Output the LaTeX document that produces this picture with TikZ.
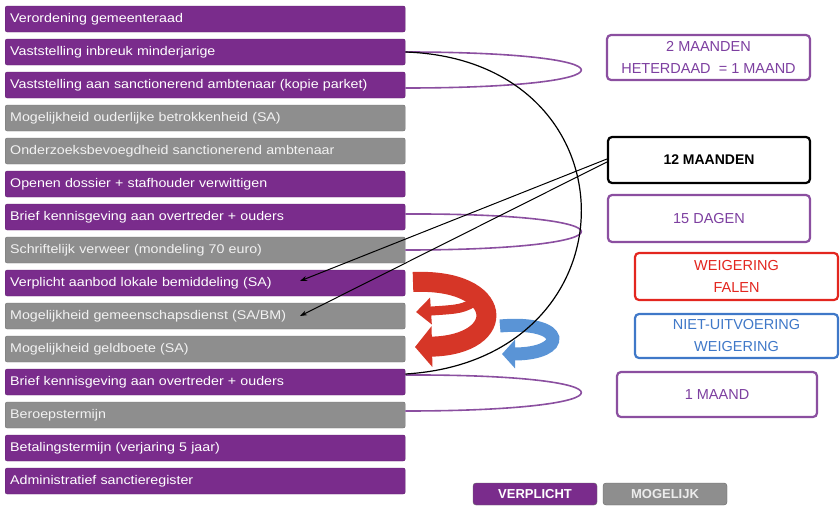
\documentclass[tikz,border=0pt]{standalone}
\usepackage{fontspec}
\setmainfont{Liberation Sans}
\newfontfamily\balkfont[FakeStretch=1.13]{Liberation Sans}
\usetikzlibrary{arrows.meta}

\definecolor{paars}{HTML}{7A2C8C}
\definecolor{grijs}{HTML}{8E8E8E}
\definecolor{lijnpaars}{HTML}{8B4FA0}
\definecolor{tekstpaars}{HTML}{7D3FA0}
\definecolor{rood}{HTML}{E3261F}
\definecolor{blauw}{HTML}{3F78C8}
\definecolor{pijlrood}{HTML}{D63627}
\definecolor{pijlblauw}{HTML}{5A94D6}

\begin{document}
\begin{tikzpicture}[x=1pt,y=-1pt,
  balk/.style={rounded corners=2pt,minimum height=26pt,text width=390pt,align=left,
    inner xsep=5pt,anchor=west,font=\balkfont\fontsize{12.6}{14}\selectfont,text=white},
  verpl/.style={balk,fill=paars,draw=paars!80!black},
  mogel/.style={balk,fill=grijs,draw=grijs!80!black,text=white!90!gray},
  termijn/.style={draw,line width=2.2pt,rounded corners=4pt,fill=white,align=center,
    font=\fontsize{14.5}{22}\selectfont},
  legende/.style={rounded corners=3pt,minimum width=124pt,minimum height=22pt,
    font=\bfseries\fontsize{13}{15}\selectfont,draw=black!60},
  lus/.style={lijnpaars,line width=1.6pt}]
\useasboundingbox (0,0) rectangle (840,506);

% balken
\node[verpl] (b1) at (5,19) {Verordening gemeenteraad};
\node[verpl] (b2) at (5,52) {Vaststelling inbreuk minderjarige};
\node[verpl] (b3) at (5,85) {Vaststelling aan sanctionerend ambtenaar (kopie parket)};
\node[mogel] (b4) at (5,118) {Mogelijkheid ouderlijke betrokkenheid (SA)};
\node[mogel] (b5) at (5,151) {Onderzoeksbevoegdheid sanctionerend ambtenaar};
\node[verpl] (b6) at (5,184) {Openen dossier + stafhouder verwittigen};
\node[verpl] (b7) at (5,217) {Brief kennisgeving aan overtreder + ouders};
\node[mogel] (b8) at (5,250) {Schriftelijk verweer (mondeling 70 euro)};
\node[verpl] (b9) at (5,283) {Verplicht aanbod lokale bemiddeling (SA)};
\node[mogel] (b10) at (5,316) {Mogelijkheid gemeenschapsdienst (SA/BM)};
\node[mogel] (b11) at (5,349) {Mogelijkheid geldboete (SA)};
\node[verpl] (b12) at (5,382) {Brief kennisgeving aan overtreder + ouders};
\node[mogel] (b13) at (5,415) {Beroepstermijn};
\node[verpl] (b14) at (5,448) {Betalingstermijn (verjaring 5 jaar)};
\node[verpl] (b15) at (5,481) {Administratief sanctieregister};

% termijnen
\node[termijn,draw=lijnpaars,text=tekstpaars,minimum width=203pt,minimum height=45pt]
  (t2m) at (708.5,57.5) {2 MAANDEN\\HETERDAAD \ = 1 MAAND};
\node[termijn,draw=black,text=black,font=\bfseries\fontsize{14}{16}\selectfont,
  minimum width=202pt,minimum height=46pt] (t12) at (709,160) {12 MAANDEN};
\node[termijn,draw=lijnpaars,text=tekstpaars,minimum width=202pt,minimum height=47pt]
  (t15) at (709,218.5) {15 DAGEN};
\node[termijn,draw=rood,text=rood,minimum width=203pt,minimum height=47pt]
  (tw) at (736.5,276.5) {WEIGERING\\FALEN};
\node[termijn,draw=blauw,text=blauw,minimum width=203pt,minimum height=44pt]
  (tn) at (736.5,336) {NIET-UITVOERING\\WEIGERING};
\node[termijn,draw=lijnpaars,text=tekstpaars,minimum width=200pt,minimum height=45pt]
  (t1m) at (717,394.5) {1 MAAND};

% legende
\node[legende,fill=paars,text=white] (lv) at (535,494) {VERPLICHT};
\node[legende,fill=grijs,text=white!85!gray] (lm) at (665,494) {MOGELIJK};

% lussen
\draw[lus] (b2.east) .. controls (640,52) and (640,88) .. ([yshift=-3pt]b3.east);
\draw[lus] ([yshift=3pt]b7.east) .. controls (640,213) and (640,250) .. (b8.east);
\draw[lus] ([yshift=7pt]b12.east) .. controls (640,374) and (640,411) .. ([yshift=4pt]b13.east);

% draaiende pijlen
\draw[pijlrood,line width=9pt,-{Triangle[width=26pt,length=15pt]}]
  (478,300) .. controls (462,309) .. (416,312);
\draw[pijlrood,line width=20pt,-{Triangle[width=40pt,length=17pt]}]
  (413,282) .. controls (505,278) and (510,345) .. (415,347);
\draw[pijlblauw,line width=13pt,-{Triangle[width=28pt,length=13pt]}]
  (500,326) .. controls (568,320) and (568,354) .. (502,354);

% boog en pijlen
\draw[line width=1.2pt] (b2.east) .. controls (640,60) and (640,360) .. ([yshift=8pt]b12.east);
\draw[line width=1pt,-{Stealth[length=7pt,width=5pt]}] ([yshift=1pt]t12.west) -- ([xshift=295pt,yshift=2pt]b9.west);
\draw[line width=1pt,-{Stealth[length=7pt,width=5pt]}] ([yshift=-2pt]t12.west) -- ([xshift=295pt]b10.west);
\end{tikzpicture}
\end{document}
